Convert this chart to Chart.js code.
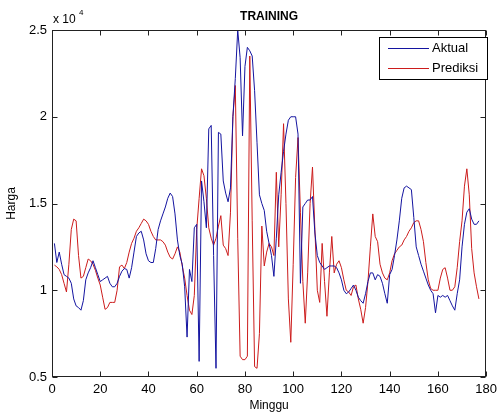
<!DOCTYPE html>
<html>
<head>
<meta charset="utf-8">
<script src="https://cdn.jsdelivr.net/npm/chart.js@4.4.1/dist/chart.umd.min.js"></script>
<style>
  html, body { margin: 0; padding: 0; background: #fff; }
  #wrap { width: 502px; height: 417px; }
</style>
</head>
<body>
<div id="wrap"><canvas id="chart" width="502" height="417"></canvas></div>
<script>
const FONT = '"Liberation Sans", Arial, Helvetica, sans-serif';

const chartTitle = 'TRAINING';
const xLabel = 'Minggu';
const yLabel = 'Harga';
const seriesNames = ['Aktual', 'Prediksi'];
const seriesColors = ['#1414a0', '#cc1c1c'];

// week numbers 1..177
const weeks = [];
for (let i = 1; i <= 177; i++) weeks.push(i);

const aktual = [
  12700, 11600, 12200, 11500, 10900, 10800, 10700, 10400, 9500, 9100,
  9000, 8850, 9400, 10600, 11000, 11300, 11700, 11300, 10900, 10500,
  10600, 10700, 10800, 10400, 10200, 10200, 10400, 10800, 11100, 11250,
  11200, 10700, 11300, 12200, 13100, 13300, 13400, 12900, 12100, 11700,
  11600, 11600, 12400, 13500, 14000, 14400, 14800, 15300, 15600, 15400,
  14400, 12900, 12000, 11500, 10200, 7300, 11200, 10500, 13600, 13800,
  5900, 16300, 15100, 13600, 19300, 19500, 12000, 5500, 19100, 19000,
  16300, 15600, 15100, 15900, 20000, 22200, 25000, 23400, 18900, 22900,
  24000, 23800, 23500, 21500, 18500, 15500, 15000, 14600, 13400, 12700,
  12000, 10800, 13000, 15500, 16800, 18000, 19000, 19800, 20000, 20000,
  20000, 19000, 10400, 14800, 15000, 15200, 15200, 15400, 13300, 12000,
  11600, 11400, 11200, 11300, 11400, 11400, 11400, 11300, 11000, 10600,
  10000, 9800, 9900, 10100, 10300, 10000, 9600, 9400, 9250, 9800,
  10500, 11000, 11000, 10600, 10900, 10800, 10400, 9800, 9250, 10900,
  11200, 12000, 12900, 14000, 15300, 15900, 16000, 15900, 15800, 14200,
  12500, 12000, 11500, 11100, 10700, 10300, 10000, 9800, 8700, 9700,
  9600, 9700, 9600, 9700, 9400, 9100, 8850, 9800, 10600, 12500,
  13800, 14500, 14700, 14100, 13800, 13800, 14000
];

const prediksi = [
  11450, 11350, 11200, 10900, 10400, 9900, 11500, 13500, 14100, 14000,
  12000, 10700, 10800, 11300, 11800, 11700, 11500, 11150, 10700, 10300,
  9600, 8900, 9000, 9300, 9300, 9300, 10000, 11350, 11450, 11250,
  11600, 12200, 12700, 13000, 13400, 13600, 13850, 14100, 14000, 13800,
  13400, 13100, 12900, 12900, 12900, 12800, 12600, 12200, 11900, 11800,
  12100, 12500, 12200, 11400, 10700, 9700, 8850, 8600, 9700, 13500,
  15300, 17000, 16600, 15300, 13600, 13000, 12600, 13000, 13700, 14300,
  12600, 12400, 12000, 14500, 20000, 21800, 13000, 6200, 6000, 6000,
  6200, 23500, 14000, 5600, 5500, 7500, 13700, 11400, 12200, 12700,
  12500, 12000, 16800, 12500, 15500, 19600, 15000, 9500, 7000, 11500,
  16500, 18800, 14500, 10500, 8100, 11000, 15000, 17100, 13500, 10000,
  9300, 12700, 10500, 8500, 11000, 13100, 11000, 11500, 11700, 11300,
  10600, 10000, 9900, 9700, 10200, 10300, 9500, 8900, 8100, 9000,
  10500, 12500, 14400, 13100, 12800, 11500, 11000, 10700, 10600, 11000,
  11700, 12100, 12300, 12500, 12600, 12900, 13100, 13400, 13600, 13900,
  14000, 14000, 13500, 12800, 11600, 10600, 10100, 10000, 10000, 10000,
  10700, 11200, 11300, 10700, 10000, 10000, 10200, 11300, 12800, 14000,
  16000, 17000, 15500, 12400, 11000, 10200, 9500
];

const xMin = 0, xMax = 180, xStep = 20;
const yMin = 5000, yMax = 25000, yStep = 5000;
const yScaleFactor = 10000;

function toPoints(values) {
  return weeks.map((w, i) => ({ x: w, y: values[i] }));
}

// MATLAB style box, inward ticks, title, exponent and legend
const matlabFrame = {
  id: 'matlabFrame',
  afterDraw(chart) {
    const { ctx, chartArea: a, scales } = chart;
    const x = scales.x, y = scales.y;
    ctx.save();
    ctx.strokeStyle = '#222';
    ctx.lineWidth = 1;
    const L = Math.round(a.left) + 0.5, R = Math.round(a.right) - 0.5;
    const T = Math.round(a.top) + 0.5, B = Math.round(a.bottom) - 0.5;
    ctx.strokeRect(L, T, R - L, B - T);

    ctx.beginPath();
    x.ticks.forEach(t => {
      const px = Math.round(x.getPixelForValue(t.value)) + 0.5;
      ctx.moveTo(px, B); ctx.lineTo(px, B - 5);
      ctx.moveTo(px, T); ctx.lineTo(px, T + 5);
    });
    y.ticks.forEach(t => {
      const py = Math.round(y.getPixelForValue(t.value)) + 0.5;
      ctx.moveTo(L, py); ctx.lineTo(L + 5, py);
      ctx.moveTo(R, py); ctx.lineTo(R - 5, py);
    });
    ctx.stroke();

    // title
    ctx.fillStyle = '#000';
    ctx.font = 'bold 12px ' + FONT;
    ctx.textAlign = 'center';
    ctx.textBaseline = 'alphabetic';
    ctx.fillText(chartTitle, (a.left + a.right) / 2, 20);

    // exponent
    ctx.font = '12px ' + FONT;
    ctx.textAlign = 'left';
    ctx.fillText('x 10', a.left + 1, 23);
    ctx.font = '8px ' + FONT;
    ctx.fillText('4', a.left + 27, 15);

    // legend
    const bx = 379.5, by = 37.5, bw = 108, bh = 42;
    ctx.fillStyle = '#fff';
    ctx.fillRect(bx, by, bw, bh);
    ctx.strokeStyle = '#000';
    ctx.strokeRect(bx, by, bw, bh);
    ctx.font = '13px ' + FONT;
    ctx.textBaseline = 'middle';
    chart.data.datasets.forEach((ds, i) => {
      const ly = 48.5 + i * 20;
      ctx.strokeStyle = ds.borderColor;
      ctx.beginPath();
      ctx.moveTo(388, ly); ctx.lineTo(429, ly);
      ctx.stroke();
      ctx.fillStyle = '#000';
      ctx.fillText(ds.label, 432, ly);
    });
    ctx.restore();
  }
};

new Chart(document.getElementById('chart'), {
  type: 'line',
  data: {
    datasets: [
      {
        label: seriesNames[0],
        data: toPoints(aktual),
        borderColor: seriesColors[0],
        borderWidth: 1,
        pointRadius: 0,
        tension: 0,
        fill: false
      },
      {
        label: seriesNames[1],
        data: toPoints(prediksi),
        borderColor: seriesColors[1],
        borderWidth: 1,
        pointRadius: 0,
        tension: 0,
        fill: false
      }
    ]
  },
  options: {
    responsive: false,
    devicePixelRatio: 1,
    animation: false,
    layout: { padding: { left: 0, right: 9, top: 30, bottom: 0 } },
    plugins: {
      legend: { display: false },
      tooltip: { enabled: false },
      title: { display: false }
    },
    scales: {
      x: {
        type: 'linear',
        min: xMin, max: xMax,
        grid: { display: false, drawTicks: false },
        border: { display: false },
        ticks: { stepSize: xStep, color: '#000', padding: 5, maxRotation: 0, font: { family: FONT, size: 13 } },
        title: { display: true, text: xLabel, color: '#000', padding: { top: 0, bottom: 4 }, font: { family: FONT, size: 12 } },
        afterFit(scale) { scale.height = 40; }
      },
      y: {
        min: yMin, max: yMax,
        grid: { display: false, drawTicks: false },
        border: { display: false },
        ticks: {
          stepSize: yStep, color: '#000', padding: 5,
          font: { family: FONT, size: 13 },
          callback: v => String(v / yScaleFactor)
        },
        title: { display: true, text: yLabel, color: '#000', padding: { top: 4, bottom: 0 }, font: { family: FONT, size: 12 } },
        afterFit(scale) { scale.width = 52; }
      }
    }
  },
  plugins: [matlabFrame]
});
</script>
</body>
</html>
